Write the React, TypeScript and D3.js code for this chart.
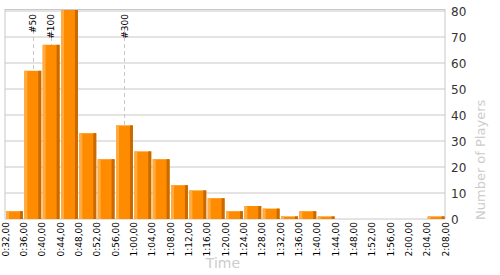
import React from "react";
import * as d3 from "d3";

const binStarts = [32, 36, 40, 44, 48, 52, 56, 60, 64, 68, 72, 76, 80, 84, 88, 92, 96, 100, 104, 108, 112, 116, 120, 124];
const counts = [3, 57, 67, 82, 33, 23, 36, 26, 23, 13, 11, 8, 3, 5, 4, 1, 3, 1, 0, 0, 0, 0, 0, 1];
const tickMinutes = [32, 36, 40, 44, 48, 52, 56, 60, 64, 68, 72, 76, 80, 84, 88, 92, 96, 100, 104, 108, 112, 116, 120, 124, 128];
const yTicks = [0, 10, 20, 30, 40, 50, 60, 70, 80];
const markers = [
  { label: "#50", t: 38 },
  { label: "#100", t: 42 },
  { label: "#300", t: 58 },
];

const fmt = (m: number) => `${Math.floor(m / 60)}:${String(m % 60).padStart(2, "0")},00`;

export default function App() {
  const W = 500, H = 275;
  const left = 5, right = 445, top = 11, bottom = 219;
  const x = d3.scaleLinear().domain([32, 128]).range([left, right]);
  const y = d3.scaleLinear().domain([0, 80]).range([bottom, top]);
  const binW = x(36) - x(32);
  const font = "'DejaVu Sans', Verdana, sans-serif";

  return (
    <svg width={W} height={H} style={{ position: "absolute", left: 0, top: 0, background: "#fff" }} fontFamily={font}>
      <defs>
        <clipPath id="plot">
          <rect x={left} y={top - 1} width={right - left} height={bottom - top + 1} />
        </clipPath>
      </defs>
      {yTicks.map((v) => (
        <line key={v} x1={left} x2={right} y1={y(v)} y2={y(v)} stroke="#c8c8c8" strokeWidth={1} />
      ))}
      <line x1={left} x2={right} y1={top - 1.5} y2={top - 1.5} stroke="#c8c8c8" strokeWidth={1} />
      <line x1={left} x2={left} y1={top - 2} y2={bottom} stroke="#c8c8c8" strokeWidth={1} />
      <line x1={right} x2={right} y1={top - 2} y2={bottom} stroke="#c8c8c8" strokeWidth={1} />
      {markers.map((m) => (
        <g key={m.label}>
          <line x1={Math.round(x(m.t)) + 0.5} x2={Math.round(x(m.t)) + 0.5} y1={top + 19} y2={bottom}
            stroke="#c8c8c8" strokeDasharray="4,3" strokeWidth={1} />
          <text transform={`translate(${x(m.t) + 3.5},${top + 3}) rotate(-90)`} textAnchor="end"
            fontSize={9} fill="#000">{m.label}</text>
        </g>
      ))}
      <g clipPath="url(#plot)">
        {binStarts.map((b, i) => {
          const v = counts[i];
          if (v <= 0) return null;
          const x0 = x(b) + 1;
          const w = binW - 1.4;
          const yt = y(v);
          const h = bottom - yt;
          return (
            <g key={b}>
              <rect x={x0} y={yt} width={w} height={h} fill="#ff8c00" />
              <rect x={x0} y={yt} width={3} height={h} fill="#ffab40" />
              <rect x={x0 + w - 3} y={yt} width={3} height={h} fill="#c86a00" />
            </g>
          );
        })}
      </g>
      {tickMinutes.map((m) => (
        <text key={m} transform={`translate(${x(m) + 3.5},${bottom + 3}) rotate(-90)`} textAnchor="end"
          fontSize={9} fill="#000">{fmt(m)}</text>
      ))}
      {yTicks.map((v) => (
        <text key={v} x={right + 6} y={y(v) + 4.5} fontSize={12} fill="#333">{v}</text>
      ))}
      <text x={223} y={268} textAnchor="middle" fontSize={14} fill="#ccc">Time</text>
      <text transform={`translate(${485},${bottom + 1}) rotate(-90)`} textAnchor="start" fontSize={13} fill="#ccc">Number of Players</text>
    </svg>
  );
}
